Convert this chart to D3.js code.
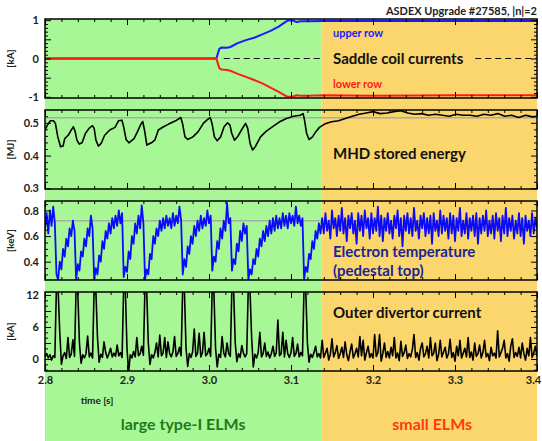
<!DOCTYPE html>
<html>
<head>
<meta charset="utf-8">
<title>ASDEX Upgrade #27585</title>
<script src="https://cdnjs.cloudflare.com/ajax/libs/d3/7.8.5/d3.min.js"></script>
<style>
  body { margin: 0; background: #fff; }
  text { font-family: "Lato", "Open Sans", sans-serif; font-weight: bold; }
</style>
</head>
<body>
<div id="chart"></div>
<script>
// ---- data ----
const timeDomain = [2.8, 3.4];
const regimeSplit = 3.137;          // end of type-I ELM phase [s]
const xTickLabels = ["2.8", "2.9", "3.0", "3.1", "3.2", "3.3", "3.4"];

// saddle coil currents [kA]
const coilTime  = [2.8, 3.009, 3.0125, 3.0155, 3.022, 3.026, 3.035, 3.045, 3.055, 3.065, 3.075, 3.085, 3.093, 3.097, 3.102, 3.107, 3.112, 3.12, 3.14, 3.2, 3.3, 3.4];
const coilUpper = [0.0, 0.0, 0.25, 0.29, 0.28, 0.30, 0.40, 0.48, 0.54, 0.63, 0.72, 0.83, 0.95, 1.0, 0.99, 0.95, 0.97, 0.97, 0.98, 0.98, 0.98, 0.98];
const coilLower = [0.0, 0.0, -0.25, -0.29, -0.30, -0.32, -0.40, -0.48, -0.56, -0.65, -0.76, -0.87, -0.97, -1.0, -0.99, -0.96, -0.97, -0.97, -0.96, -0.97, -0.96, -0.96];

// MHD stored energy [MJ]
const wmhdTime = [2.8, 2.803, 2.8063, 2.8106, 2.8127, 2.8156, 2.819, 2.822, 2.8241, 2.8283, 2.8325, 2.8346, 2.8368, 2.8389, 2.8418, 2.8452, 2.8494, 2.8537, 2.8579, 2.86,
  2.8621, 2.8651, 2.8685, 2.8727, 2.879, 2.8854, 2.8896, 2.8938, 2.8959, 2.8989, 2.9023, 2.9086, 2.9128, 2.917, 2.9192, 2.9213, 2.9242, 2.9297, 2.9339, 2.9382,
  2.9445, 2.9508, 2.9593, 2.9656, 2.9677, 2.9707, 2.9741, 2.9804, 2.9868, 2.9931, 2.9973, 3.0015, 3.0037, 3.0066, 3.01, 3.0142, 3.0184, 3.0227, 3.0256, 3.0277,
  3.0311, 3.0353, 3.0396, 3.0446, 3.0472, 3.0501, 3.0531, 3.0565, 3.0628, 3.0692, 3.0776, 3.0861, 3.0945, 3.103, 3.1114, 3.1148, 3.1165, 3.119, 3.122, 3.1262,
  3.1304, 3.1346, 3.141, 3.1494, 3.1579, 3.1663, 3.1748, 3.1832, 3.1917, 3.2001, 3.2086, 3.217, 3.2255, 3.2339, 3.2424, 3.2508, 3.2593, 3.2677, 3.2762, 3.2846,
  3.2931, 3.3015, 3.31, 3.3184, 3.3269, 3.3353, 3.3438, 3.3522, 3.3607, 3.3691, 3.3776, 3.3861, 3.3945, 3.4];
const wmhdValue = [0.478, 0.493, 0.506, 0.506, 0.498, 0.457, 0.427, 0.429, 0.452, 0.462, 0.480, 0.488, 0.473, 0.447, 0.435, 0.439, 0.468, 0.483, 0.491, 0.483,
  0.447, 0.429, 0.437, 0.462, 0.478, 0.486, 0.506, 0.508, 0.488, 0.449, 0.439, 0.452, 0.473, 0.496, 0.504, 0.478, 0.432, 0.439, 0.447, 0.478,
  0.488, 0.496, 0.506, 0.516, 0.498, 0.457, 0.449, 0.457, 0.473, 0.498, 0.508, 0.516, 0.498, 0.457, 0.445, 0.457, 0.488, 0.500, 0.493, 0.468,
  0.447, 0.459, 0.478, 0.498, 0.483, 0.437, 0.417, 0.427, 0.457, 0.473, 0.488, 0.503, 0.513, 0.520, 0.523, 0.528, 0.508, 0.468, 0.449, 0.457,
  0.473, 0.486, 0.496, 0.503, 0.506, 0.513, 0.520, 0.526, 0.530, 0.534, 0.528, 0.530, 0.534, 0.537, 0.530, 0.526, 0.528, 0.523, 0.526, 0.523,
  0.520, 0.526, 0.523, 0.523, 0.520, 0.526, 0.523, 0.528, 0.520, 0.523, 0.516, 0.523, 0.518, 0.520];
const wmhdRef = 0.515;

// fast signals, one sample every 2 ms from 2.800 s to 3.400 s
const fastStart = 2.8, fastStep = 0.002;

// electron temperature at pedestal top [keV]
const teValue = [
  0.66, 0.78, 0.62, 0.80, 0.68, 0.83, 0.70,
  0.30, 0.26, 0.40, 0.34, 0.50, 0.44, 0.58, 0.52, 0.66, 0.60, 0.72, 0.64,
  0.26, 0.38, 0.33, 0.48, 0.44, 0.58, 0.52, 0.66, 0.60, 0.76, 0.66,
  0.26, 0.35, 0.30, 0.45, 0.40, 0.56, 0.50, 0.64, 0.58, 0.70, 0.62, 0.74, 0.66, 0.76, 0.68, 0.80, 0.70, 0.78,
  0.28, 0.36, 0.32, 0.48, 0.42, 0.60, 0.54, 0.70, 0.62, 0.76, 0.66, 0.84, 0.70,
  0.26, 0.34, 0.30, 0.46, 0.42, 0.60, 0.54, 0.66, 0.60, 0.72, 0.64, 0.74, 0.66, 0.76, 0.68, 0.74, 0.66, 0.78, 0.68, 0.76, 0.70, 0.83, 0.72,
  0.30, 0.42, 0.36, 0.52, 0.46, 0.60, 0.54, 0.68, 0.60, 0.72, 0.64, 0.76, 0.66, 0.74, 0.68, 0.80, 0.70, 0.76,
  0.33, 0.44, 0.40, 0.56, 0.50, 0.66, 0.58, 0.72, 0.64, 0.86, 0.70, 0.74,
  0.33, 0.42, 0.38, 0.54, 0.48, 0.64, 0.56, 0.70, 0.62, 0.68,
  0.26, 0.34, 0.30, 0.42, 0.38, 0.50, 0.44, 0.58, 0.52, 0.64, 0.56, 0.68, 0.60, 0.72, 0.62, 0.74, 0.64, 0.76, 0.66, 0.74, 0.66, 0.78, 0.68, 0.76, 0.66, 0.78, 0.70, 0.76, 0.68, 0.83, 0.70, 0.76, 0.68, 0.74,
  0.26, 0.36, 0.32, 0.46, 0.42, 0.56, 0.50, 0.64, 0.58, 0.70, 0.62,
  0.74, 0.62, 0.78, 0.64, 0.72, 0.58, 0.80, 0.66, 0.74, 0.60,
  0.76, 0.64, 0.82, 0.62, 0.74, 0.56, 0.76, 0.66, 0.78, 0.62,
  0.72, 0.54, 0.78, 0.64, 0.76, 0.60, 0.80, 0.66, 0.74, 0.58,
  0.78, 0.62, 0.74, 0.64, 0.83, 0.60, 0.76, 0.56, 0.74, 0.64,
  0.78, 0.62, 0.72, 0.58, 0.76, 0.66, 0.80, 0.60, 0.74, 0.52,
  0.76, 0.64, 0.78, 0.62, 0.74, 0.60, 0.82, 0.64, 0.72, 0.58,
  0.76, 0.66, 0.78, 0.60, 0.74, 0.62, 0.76, 0.54, 0.78, 0.64,
  0.72, 0.60, 0.80, 0.62, 0.76, 0.64, 0.74, 0.58, 0.78, 0.62,
  0.76, 0.56, 0.74, 0.64, 0.82, 0.60, 0.72, 0.62, 0.78, 0.58,
  0.74, 0.64, 0.76, 0.60, 0.78, 0.54, 0.74, 0.62, 0.76, 0.64,
  0.80, 0.60, 0.72, 0.62, 0.76, 0.58, 0.78, 0.64, 0.74, 0.56,
  0.76, 0.62, 0.82, 0.60, 0.74, 0.64, 0.76, 0.58, 0.72, 0.62,
  0.78, 0.60, 0.74, 0.54, 0.76, 0.64, 0.72, 0.60, 0.78, 0.62, 0.74, 0.66
];
const teRef = 0.72;

// outer divertor current [kA]
const divValue = [
  0.4, 1.0, 0.2, 0.8, -0.2, 0.6, 0.3,
  14, 13, 5, -1.0, 0.6, 1.2, 0.1, 4.0, 0.3, 0.9, 3.6, 0.5,
  14, 12.5, 3, -0.8, 0.8, 0.2, 1.0, 4.3, 0.4, 1.1, 0.2,
  14, 13, 4, -0.6, 0.9, 0.3, 3.2, 1.2, 0.2, 1.0, 2.0, 0.4, 1.1, 0.5, 2.6, 0.6, 1.2, 0.3,
  14, 13, 2, -2.5, 0.8, 0.2, 1.4, 0.4, 4.0, 0.6, 1.0, 2.4, 0.7,
  14, 13, 3, -1.0, 0.8, 0.2, 1.2, 3.0, 0.4, 4.5, 0.6, 1.1, 4.0, 0.3, 3.2, 1.0, 0.4, 1.3, 4.2, 0.5, 1.0, 2.2, 0.6,
  14, 13, 2, -1.4, 1.0, 0.3, 1.3, 5.6, 0.5, 1.1, 4.8, 0.4, 1.2, 5.0, 0.6, 1.0, 2.0, 0.5,
  14, 12.5, 2, -1.5, 0.9, 0.3, 4.2, 1.1, 0.4, 3.0, 1.0, 0.5,
  14, 13, 3, -0.5, 1.0, 0.3, 2.5, 1.1, 0.4, 1.0,
  14, 13, 4, -1.5, 0.9, 0.2, 1.2, 5.0, 0.4, 1.0, 3.0, 0.5, 1.3, 0.2, 1.0, 2.4, 0.5, 1.2, 7.3, 0.6, 1.0, 5.0, 0.4, 3.5, 1.0, 0.3, 1.2, 4.0, 0.5, 1.0, 2.8, 0.4, 1.2, 0.6,
  14, 13, 3, -0.6, 0.9, 0.3, 1.2, 2.4, 0.4, 1.0, 0.2,
  3.5, 0.3, 1.1, 2.0, -0.2, 0.9, 3.8, 0.4, 1.2, 2.5,
  0.1, 1.0, 2.2, 0.3, 3.2, 0.8, -0.3, 1.4, 2.8, 0.2,
  1.0, 2.0, 0.4, 4.2, 0.6, 3.5, -0.2, 1.2, 2.4, 0.3,
  1.0, 0.2, 4.6, 0.5, 1.2, 4.6, -0.4, 1.0, 3.0, 0.3,
  1.4, 0.2, 2.2, 0.6, 4.0, 0.2, 1.1, -0.3, 3.3, 0.5,
  1.2, 2.6, 0.1, 1.0, 0.4, 1.8, 4.6, 0.3, 1.2, -0.2,
  2.0, 3.0, 0.4, 1.0, 2.4, 0.2, 4.0, 0.6, 1.1, 3.0,
  -0.3, 0.9, 3.5, 0.4, 1.3, 2.2, 0.2, 1.0, 3.7, 0.3,
  1.2, -0.4, 2.4, 0.6, 3.5, 0.2, 1.1, 2.0, 0.4, 4.0,
  0.3, 1.3, -0.2, 3.0, 0.5, 1.0, 2.6, 0.2, 1.2, 3.5,
  0.4, 1.0, -0.3, 2.2, 0.6, 1.1, 0.2, 5.3, 0.4, 1.2,
  2.0, 3.5, 0.2, 1.0, -0.4, 2.4, 3.8, 0.3, 1.2, 0.5,
  2.2, 0.2, 3.0, 1.0, -0.2, 2.0, 0.6, 4.0, 0.3, 1.1, 2.4, 0.5
];

// ---- layout ----
const width = 542, height = 441;
const plotLeft = 45, plotRight = 537;
const green = "#a8f796", orange = "#fad66c";

const svg = d3.select("#chart").append("svg")
  .attr("width", width)
  .attr("height", height);

const x = d3.scaleLinear().domain(timeDomain).range([plotLeft, plotRight]);

// regime backgrounds run from the top frame down to the bottom of the page
svg.append("rect")
  .attr("x", x(timeDomain[0])).attr("y", 19)
  .attr("width", x(regimeSplit) - x(timeDomain[0])).attr("height", height - 19)
  .attr("fill", green);
svg.append("rect")
  .attr("x", x(regimeSplit)).attr("y", 19)
  .attr("width", x(timeDomain[1]) - x(regimeSplit)).attr("height", height - 19)
  .attr("fill", orange);

const panels = [
  { id: "coil", top: 19,  bottom: 98,  domain: [-1.03, 1.03], unit: "[kA]",
    major: [-1, -0.5, 0, 0.5, 1], labels: { "-1": "-1", "0": "0", "1": "1" }, minorStep: 0.1 },
  { id: "wmhd", top: 110, bottom: 189, domain: [0.298, 0.539], unit: "[MJ]",
    major: [0.3, 0.4, 0.5], labels: { "0.3": "0.3", "0.4": "0.4", "0.5": "0.5" }, minorStep: 0.02 },
  { id: "te",   top: 201, bottom: 280, domain: [0.257, 0.874], unit: "[keV]",
    major: [0.4, 0.6, 0.8], labels: { "0.4": "0.4", "0.6": "0.6", "0.8": "0.8" }, minorStep: 0.05 },
  { id: "div",  top: 292, bottom: 371, domain: [-2.25, 12.56], unit: "[kA]",
    major: [0, 3, 6, 9, 12], labels: { "0": "0", "6": "6", "12": "12" }, minorStep: 1 }
];

const defs = svg.append("defs");
panels.forEach(p => {
  p.y = d3.scaleLinear().domain(p.domain).range([p.bottom, p.top]);
  defs.append("clipPath").attr("id", "clip-" + p.id)
    .append("rect")
    .attr("x", plotLeft).attr("y", p.top)
    .attr("width", plotRight - plotLeft).attr("height", p.bottom - p.top);
  p.g = svg.append("g").attr("clip-path", `url(#clip-${p.id})`);
});
const P = Object.fromEntries(panels.map(p => [p.id, p]));

function fastTime(i) { return fastStart + i * fastStep; }

function drawLine(p, times, values, color, w) {
  const pts = values.map((v, i) => [times(i), v]);
  p.g.append("path")
    .datum(pts)
    .attr("fill", "none")
    .attr("stroke", color)
    .attr("stroke-width", w)
    .attr("stroke-linejoin", "round")
    .attr("d", d3.line().x(d => x(d[0])).y(d => p.y(d[1])));
}

function refLine(p, v) {
  p.g.append("line")
    .attr("x1", plotLeft).attr("x2", plotRight)
    .attr("y1", p.y(v)).attr("y2", p.y(v))
    .attr("stroke", "#aaaaaa").attr("stroke-width", 1.5);
}

// panel 1: saddle coils
drawLine(P.coil, i => coilTime[i], coilUpper, "#1a1aff", 2);
drawLine(P.coil, i => coilTime[i], coilLower, "#ff1a1a", 2);

// panel 2: stored energy
refLine(P.wmhd, wmhdRef);
drawLine(P.wmhd, i => wmhdTime[i], wmhdValue, "#000", 1.6);

// panel 3: pedestal Te
refLine(P.te, teRef);
drawLine(P.te, fastTime, teValue, "#0a0aff", 1.8);

// panel 4: divertor current
drawLine(P.div, fastTime, divValue, "#000", 1.6);

// ---- annotations ----
const txtX = 333;
function note(str, xPos, yPos, size, color, anchor) {
  return svg.append("text")
    .attr("x", xPos).attr("y", yPos)
    .attr("font-size", size)
    .attr("fill", color)
    .attr("text-anchor", anchor || "start")
    .text(str);
}

note("upper row", txtX, 37, 11, "#1a1aff");
note("lower row", txtX, 88, 11, "#ff1a1a");
const saddle = note("Saddle coil currents", txtX, 64, 15, "#111");
const sw = saddle.node().getComputedTextLength();
const y0 = P.coil.y(0);
[[x(3.018), txtX - 12], [txtX + sw + 12, plotRight]].forEach(([a, b]) => {
  svg.append("line")
    .attr("x1", a).attr("x2", b).attr("y1", y0).attr("y2", y0)
    .attr("stroke", "#111").attr("stroke-width", 1.2)
    .attr("stroke-dasharray", "6,4");
});

note("MHD stored energy", txtX, 159, 15, "#111");
note("Electron temperature", txtX, 257, 15, "#1c2595");
note("(pedestal top)", txtX, 276, 15, "#1c2595");
note("Outer divertor current", txtX, 318, 15, "#111");

note("ASDEX Upgrade #27585, |n|=2", plotRight, 15, 11, "#222", "end");
note("time [s]", 97, 404, 10, "#222", "middle");
note("large type-I ELMs", (x(timeDomain[0]) + x(regimeSplit)) / 2, 430, 16, "#1e7a1e", "middle");
note("small ELMs", (x(regimeSplit) + x(timeDomain[1])) / 2 + 3, 430, 16, "#ff3a12", "middle");

// ---- frames and ticks ----
const xMajor = xTickLabels.map(Number);
const xMinor = d3.range(2.8, 3.4001, 0.02).filter(t => !xMajor.some(m => Math.abs(m - t) < 1e-6));

function styleAxis(sel) {
  sel.select(".domain").remove();
  sel.selectAll("line").attr("stroke", "#000").attr("stroke-width", 1);
  sel.selectAll("text")
    .attr("font-family", "Lato, 'Open Sans', sans-serif")
    .attr("font-weight", "bold")
    .attr("font-size", 11)
    .attr("fill", "#222");
}

panels.forEach((p, k) => {
  const ax = svg.append("g");
  const minor = d3.range(p.domain[0], p.domain[1], p.minorStep)
    .map(v => Math.round(Math.ceil(v / p.minorStep - 1e-6) * p.minorStep * 1000) / 1000)
    .filter(v => v >= p.domain[0] && v <= p.domain[1] && !p.major.some(m => Math.abs(m - v) < 1e-6));
  const fmt = d => p.labels[String(d)] || "";

  ax.append("g").attr("transform", `translate(${plotLeft},0)`)
    .call(d3.axisLeft(p.y).tickValues(minor).tickSize(-3).tickFormat("")).call(styleAxis);
  ax.append("g").attr("transform", `translate(${plotLeft},0)`)
    .call(d3.axisLeft(p.y).tickValues(p.major).tickSize(-6).tickPadding(6).tickFormat(fmt)).call(styleAxis);
  ax.append("g").attr("transform", `translate(${plotRight},0)`)
    .call(d3.axisRight(p.y).tickValues(minor).tickSize(-3).tickFormat("")).call(styleAxis);
  ax.append("g").attr("transform", `translate(${plotRight},0)`)
    .call(d3.axisRight(p.y).tickValues(p.major).tickSize(-6).tickFormat("")).call(styleAxis);

  ax.append("g").attr("transform", `translate(0,${p.top})`)
    .call(d3.axisTop(x).tickValues(xMinor).tickSize(-3).tickFormat("")).call(styleAxis);
  ax.append("g").attr("transform", `translate(0,${p.top})`)
    .call(d3.axisTop(x).tickValues(xMajor).tickSize(-6).tickFormat("")).call(styleAxis);
  ax.append("g").attr("transform", `translate(0,${p.bottom})`)
    .call(d3.axisBottom(x).tickValues(xMinor).tickSize(-3).tickFormat("")).call(styleAxis);
  const last = k === panels.length - 1;
  const bx = ax.append("g").attr("transform", `translate(0,${p.bottom})`)
    .call(d3.axisBottom(x).tickValues(xMajor).tickSize(-6).tickPadding(5)
      .tickFormat((d, i) => last ? xTickLabels[i] : "")).call(styleAxis);
  // keep the last label inside the page
  bx.selectAll("text").filter((d, i) => i === xMajor.length - 1).attr("dx", -4);

  ax.append("rect")
    .attr("x", plotLeft).attr("y", p.top)
    .attr("width", plotRight - plotLeft).attr("height", p.bottom - p.top)
    .attr("fill", "none").attr("stroke", "#000").attr("stroke-width", 1.5);

  svg.append("text")
    .attr("transform", `translate(14,${(p.top + p.bottom) / 2}) rotate(-90)`)
    .attr("text-anchor", "middle")
    .attr("font-size", 10)
    .attr("fill", "#222")
    .text(p.unit);
});
</script>
</body>
</html>
